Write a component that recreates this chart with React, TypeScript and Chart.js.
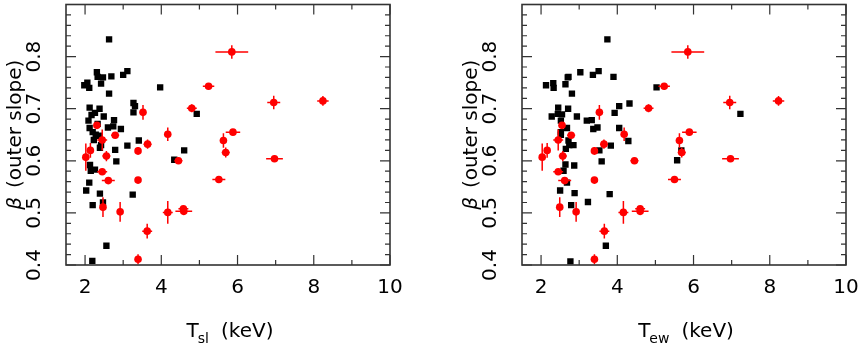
import { useEffect, useRef } from 'react';
import { Chart, registerables } from 'chart.js';
Chart.register(...registerables);

// ---- data ----
const betaRed = [0.809, 0.743, 0.712, 0.715, 0.701, 0.693, 0.668, 0.651, 0.649, 0.655, 0.639, 0.640, 0.632, 0.619, 0.616, 0.620, 0.607, 0.609, 0.600, 0.604, 0.579, 0.562, 0.563, 0.564, 0.511, 0.502, 0.501, 0.508, 0.503, 0.465, 0.411];
const betaRedErr = [0.013, 0.006, 0.013, 0.0095, 0.0076, 0.014, 0.003, 0.013, 0.005, 0.006, 0.014, 0.02, 0.009, 0.0076, 0.0095, 0.014, 0.026, 0.01, 0.006, 0.006, 0.003, 0.003, 0.006, 0.003, 0.019, 0.019, 0.022, 0.005, 0.005, 0.014, 0.0095];
const tslRed = [5.85, 5.24, 6.95, 8.24, 4.80, 3.52, 2.31, 4.17, 2.79, 5.88, 5.63, 2.45, 3.64, 3.39, 5.69, 2.14, 2.02, 2.56, 4.45, 6.97, 2.45, 2.61, 3.39, 5.51, 2.47, 2.92, 4.17, 4.58, 4.59, 3.63, 3.39];
const tewRed = [5.85, 5.23, 6.95, 8.23, 4.82, 3.53, 2.55, 4.18, 2.79, 5.89, 5.63, 2.45, 3.65, 3.40, 5.69, 2.16, 2.03, 2.57, 4.45, 6.97, 2.45, 2.62, 3.40, 5.50, 2.49, 2.92, 4.16, 4.60, 4.60, 3.66, 3.40];
const tRedErr = [0.43, 0.15, 0.17, 0.15, 0.13, 0.07, 0.04, 0.07, 0.105, 0.19, 0.07, 0.13, 0.105, 0.07, 0.105, 0.05, 0.05, 0.105, 0.105, 0.22, 0.13, 0.17, 0.07, 0.17, 0.07, 0.07, 0.13, 0.13, 0.22, 0.13, 0.07];

const tslBlack = [2.63, 1.98, 2.06, 2.11, 2.31, 2.33, 2.47, 2.42, 2.69, 3.00, 3.11, 2.63, 3.97, 3.27, 3.31, 3.27, 4.93, 2.12, 2.38, 2.26, 2.17, 2.09, 2.49, 2.76, 2.33, 2.60, 2.74, 2.94, 2.12, 2.20, 2.28, 2.23, 2.38, 2.39, 2.42, 2.79, 2.82, 3.11, 3.41, 4.34, 4.60, 2.13, 2.15, 2.26, 2.03, 2.11, 2.39, 3.25, 2.20, 2.47, 2.56, 2.19];
const betaBlackSl = [0.833, 0.745, 0.750, 0.740, 0.770, 0.761, 0.760, 0.748, 0.762, 0.765, 0.772, 0.729, 0.741, 0.711, 0.705, 0.693, 0.690, 0.702, 0.700, 0.692, 0.688, 0.677, 0.685, 0.678, 0.671, 0.664, 0.666, 0.661, 0.663, 0.655, 0.650, 0.640, 0.648, 0.625, 0.630, 0.621, 0.599, 0.629, 0.639, 0.602, 0.620, 0.592, 0.581, 0.583, 0.543, 0.558, 0.537, 0.535, 0.515, 0.520, 0.437, 0.408];

const tewBlack = [3.74, 2.13, 2.32, 2.33, 2.64, 2.70, 2.72, 3.03, 3.36, 3.51, 3.90, 2.81, 5.03, 4.32, 4.05, 3.93, 7.23, 2.45, 2.71, 2.44, 2.55, 2.28, 2.94, 2.52, 3.20, 3.33, 2.68, 3.37, 3.48, 4.05, 2.52, 2.52, 2.72, 4.29, 2.65, 2.85, 2.74, 3.53, 3.83, 2.64, 2.87, 2.59, 3.59, 2.68, 2.50, 2.88, 3.80, 2.79, 3.23, 3.70, 2.77, 5.57, 5.68];
const betaBlackEw = [0.833, 0.745, 0.749, 0.740, 0.747, 0.760, 0.761, 0.770, 0.765, 0.772, 0.761, 0.729, 0.741, 0.710, 0.705, 0.692, 0.690, 0.702, 0.700, 0.690, 0.689, 0.685, 0.685, 0.677, 0.677, 0.678, 0.663, 0.661, 0.664, 0.663, 0.655, 0.650, 0.639, 0.638, 0.623, 0.630, 0.630, 0.620, 0.629, 0.593, 0.591, 0.581, 0.599, 0.558, 0.543, 0.538, 0.536, 0.515, 0.521, 0.437, 0.407, 0.601, 0.620];

const xMajorTicks = [2, 4, 6, 8, 10];
const xMinorTicks = [3, 5, 7, 9];
const yMajorTicks = [0.4, 0.5, 0.6, 0.7, 0.8];
const yMinorTicks = [0.42, 0.44, 0.46, 0.48, 0.52, 0.54, 0.56, 0.58, 0.62, 0.64, 0.66, 0.68, 0.72, 0.74, 0.76, 0.78, 0.82, 0.84, 0.86, 0.88];
const yLabelTicks = [0.4, 0.5, 0.6, 0.7, 0.8];

const X_MIN = 1.5, X_MAX = 10, Y_MIN = 0.4, Y_MAX = 0.9;
const FONT = '"DejaVu Sans", sans-serif';
const RED = '#ff0000';
const PLOT_LEFT = 66;
const PLOT_RIGHT = 390;
const PLOT_BOTTOM = 265;
const H = 345;

type PanelProps = {
  left: number;
  width: number;
  redX: number[];
  blackX: number[];
  blackY: number[];
  sub: string;
};

function Panel({ left, width, redX, blackX, blackY, sub }: PanelProps) {
  const ref = useRef<HTMLCanvasElement>(null);
  useEffect(() => {
    const canvas = ref.current!;

    const errorBars = {
      id: 'errorBars',
      beforeDatasetDraw(chart: any, args: any) {
        if (args.index !== 0) return;
        const { ctx, scales } = chart;
        const sx = scales.x, sy = scales.y;
        ctx.save();
        ctx.strokeStyle = RED;
        ctx.lineWidth = 1.5;
        ctx.beginPath();
        redX.forEach((xv, i) => {
          const yv = betaRed[i];
          const px = sx.getPixelForValue(xv), py = sy.getPixelForValue(yv);
          ctx.moveTo(sx.getPixelForValue(xv - tRedErr[i]), py);
          ctx.lineTo(sx.getPixelForValue(xv + tRedErr[i]), py);
          ctx.moveTo(px, sy.getPixelForValue(yv - betaRedErr[i]));
          ctx.lineTo(px, sy.getPixelForValue(yv + betaRedErr[i]));
        });
        ctx.stroke();
        ctx.restore();
      },
    };

    const frame = {
      id: 'frameTicks',
      afterDraw(chart: any) {
        const { ctx, chartArea: a, scales } = chart;
        const sx = scales.x, sy = scales.y;
        ctx.save();
        ctx.strokeStyle = '#333';
        ctx.lineWidth = 1.2;
        ctx.beginPath();
        const xt = (vals: number[], len: number) => vals.forEach((v) => {
          const p = sx.getPixelForValue(v);
          ctx.moveTo(p, a.bottom); ctx.lineTo(p, a.bottom - len);
          ctx.moveTo(p, a.top); ctx.lineTo(p, a.top + len);
        });
        const yt = (vals: number[], len: number) => vals.forEach((v) => {
          const p = sy.getPixelForValue(v);
          ctx.moveTo(a.left, p); ctx.lineTo(a.left + len, p);
          ctx.moveTo(a.right, p); ctx.lineTo(a.right - len, p);
        });
        xt(xMajorTicks, 10); xt(xMinorTicks, 5);
        yt(yMajorTicks, 10); yt(yMinorTicks, 5);
        ctx.stroke();
        ctx.lineWidth = 1.6;
        ctx.strokeRect(a.left, a.top, a.right - a.left, a.bottom - a.top);
        ctx.restore();
      },
    };

    const titles = {
      id: 'axisTitles',
      afterDraw(chart: any) {
        const { ctx, chartArea: a } = chart;
        ctx.save();
        ctx.fillStyle = '#000';
        ctx.textAlign = 'left';
        ctx.textBaseline = 'alphabetic';
        const mainF = `20px ${FONT}`;
        const subF = `14px ${FONT}`;
        ctx.font = mainF;
        const wT = ctx.measureText('T').width;
        const wR = ctx.measureText('(keV)').width;
        ctx.font = subF;
        const wS = ctx.measureText(sub).width;
        const gap = 11;
        const total = wT + wS + gap + wR;
        const x0 = (a.left + a.right) / 2 + 2 - total / 2;
        ctx.font = mainF;
        ctx.fillText('T', x0, 337);
        ctx.font = subF;
        ctx.fillText(sub, x0 + wT - 1, 343);
        ctx.font = mainF;
        ctx.fillText('(keV)', x0 + wT + wS + gap, 337);

        ctx.translate(a.left - 45.5, (a.top + a.bottom) / 2);
        ctx.rotate(-Math.PI / 2);
        ctx.font = `italic 20px ${FONT}`;
        const wB = ctx.measureText('β').width;
        ctx.font = mainF;
        const wO = ctx.measureText('(outer slope)').width;
        const g2 = 9;
        const tot2 = wB + g2 + wO;
        ctx.font = `italic 20px ${FONT}`;
        ctx.fillText('β', -tot2 / 2, 0);
        ctx.font = mainF;
        ctx.fillText('(outer slope)', -tot2 / 2 + wB + g2, 0);
        ctx.restore();
      },
    };

    const chart = new Chart(canvas, {
      type: 'scatter',
      data: {
        datasets: [
          {
            label: 'red',
            data: redX.map((x, i) => ({ x, y: betaRed[i] })),
            pointStyle: 'circle',
            pointRadius: 3.8,
            pointHoverRadius: 3.8,
            backgroundColor: RED,
            borderWidth: 0,
          },
          {
            label: 'black',
            data: blackX.map((x, i) => ({ x, y: blackY[i] })),
            pointStyle: 'rect',
            pointRadius: 4.5,
            pointHoverRadius: 4.5,
            backgroundColor: '#000',
            borderWidth: 0,
          },
        ],
      },
      options: {
        responsive: false,
        animation: false,
        devicePixelRatio: 1,
        events: [],
        layout: { padding: { left: 0, top: 1, right: width - PLOT_RIGHT, bottom: 0 } },
        plugins: { legend: { display: false }, tooltip: { enabled: false } },
        scales: {
          x: {
            type: 'linear',
            position: 'bottom',
            min: X_MIN,
            max: X_MAX,
            grid: { display: false },
            border: { display: false },
            afterBuildTicks: (s: any) => { s.ticks = xMajorTicks.map((v) => ({ value: v })); },
            ticks: {
              color: '#000',
              font: { family: FONT, size: 20 },
              padding: 3,
              maxRotation: 0,
              autoSkip: false,
              callback: (v: any) => String(v),
            },
            afterFit: (s: any) => { s.height = H - PLOT_BOTTOM; s.paddingLeft = 0; s.paddingRight = 0; },
          },
          y: {
            type: 'linear',
            position: 'left',
            min: Y_MIN,
            max: Y_MAX,
            grid: { display: false },
            border: { display: false },
            afterBuildTicks: (s: any) => { s.ticks = yLabelTicks.map((v) => ({ value: v })); },
            ticks: {
              color: '#000',
              font: { family: FONT, size: 20 },
              padding: 7,
              minRotation: 90,
              maxRotation: 90,
              crossAlign: 'center',
              autoSkip: false,
              callback: (v: any) => String(v),
            },
            afterFit: (s: any) => { s.width = PLOT_LEFT; s.paddingTop = 0; s.paddingBottom = 0; },
          },
        },
      } as any,
      plugins: [errorBars, frame, titles],
    });
    return () => chart.destroy();
  }, []);
  return (
    <canvas
      ref={ref}
      width={width}
      height={H}
      style={{ position: 'absolute', left, top: 0, width, height: H }}
    />
  );
}

export default function App() {
  return (
    <div style={{ position: 'fixed', left: 0, top: 0, width: 858, height: H, overflow: 'hidden', background: '#fff' }}>
      <Panel left={0} width={430} redX={tslRed} blackX={tslBlack} blackY={betaBlackSl} sub="sl" />
      <Panel left={456} width={402} redX={tewRed} blackX={tewBlack} blackY={betaBlackEw} sub="ew" />
    </div>
  );
}
